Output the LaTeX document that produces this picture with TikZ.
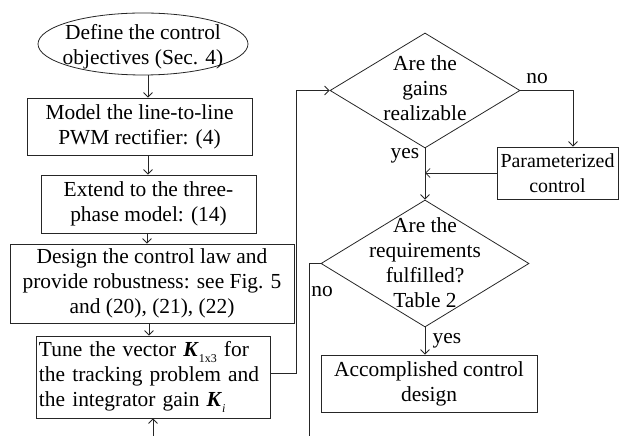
\documentclass[tikz,border=0pt]{standalone}
\usepackage{fontspec}
\setmainfont{Liberation Serif}
\usetikzlibrary{shapes.geometric,arrows.meta,calc}
\newcommand{\Kv}{\textbf{\textit{K}}}
\newcommand{\subsm}[1]{\raisebox{-0.25em}{\fontsize{12}{12}\selectfont #1}}
\begin{document}
\begin{tikzpicture}[x=1bp,y=-1bp, line width=0.8bp, draw=black!85,
  every node/.style={font=\fontsize{21.5}{25}\selectfont, text=black},
  box/.style={draw, rectangle, inner sep=0pt, align=center},
  txt/.style={inner sep=0pt, align=center},
  arr/.style={-{Straight Barb[length=4.5bp,width=9bp]}},
  lbl/.style={inner sep=0pt}]
\useasboundingbox (0,0) rectangle (619,436);
% shapes
\node[draw, ellipse, minimum width=210bp, minimum height=62bp, inner sep=0pt] (ell) at (143,44) {};
\node[txt] (ellt) at (143,46.5) {Define the control\\objectives (Sec. 4)};
\node[box, minimum width=225bp, minimum height=57bp] (b1) at (139.5,126.5) {Model the line-to-line\\PWM rectifier: (4)};
\node[box, minimum width=215bp, minimum height=58bp] (b2) at (148.5,204) {Extend to the three-\\phase model: (14)};
\node[box, minimum width=284bp, minimum height=79bp] (b3) at (152,283.5) {Design the control law and\\provide robustness: see Fig. 5\\and (20), (21), (22)};
\node[box, minimum width=234bp, minimum height=82bp, text width=228bp, align=left] (b4) at (153,377) {Tune the vector \Kv\subsm{1x3} for\\the tracking problem and\\the integrator gain \Kv\subsm{\textit{i}}};
\node[draw, diamond, minimum width=190bp, minimum height=115bp, inner sep=0pt] (d1) at (425,90.5) {};
\node[txt] (d1t) at (425,88) {Are the\\gains\\realizable};
\node[draw, diamond, minimum width=208bp, minimum height=127bp, inner sep=0pt] (d2) at (425,263.5) {};
\node[txt] (d2t) at (425,262.5) {Are the\\requirements\\fulfilled?\\Table 2};
\node[box, minimum width=121bp, minimum height=52bp, font=\fontsize{20}{25}\selectfont] (pc) at (557.5,173) {Parameterized\\control};
\node[box, minimum width=216bp, minimum height=57bp] (acc) at (429,383.5) {Accomplished control\\design};
% helper coordinates
\coordinate (ax) at (148,0);
\coordinate (bx) at (147,0);
\coordinate (cx) at (149,0);
\coordinate (bot) at (153,436);
\coordinate (r1) at (296,0);
\coordinate (r2) at (573,0);
\coordinate (l2) at (309,436);
% connectors
\draw[arr] (ell.south -| ax) -- (b1.north -| ax);
\draw[arr] (b1.south -| ax) -- (b2.north -| ax);
\draw[arr] (b2.south -| bx) -- (b3.north -| bx);
\draw[arr] (b3.south -| cx) -- (b4.north -| cx);
\draw[arr] (bot) -- (bot |- b4.south);
\draw[arr] ([yshift=4bp]b4.east) -| (r1 |- d1.west) -- (d1.west);
\draw[arr] (d1.east) -| (r2 |- pc.north);
\draw[arr] (pc.west) -- (pc.west -| d1.south);
\draw[arr] (d1.south) -- (d2.north);
\draw[arr] (d2.south) -- (acc.north -| d2.south);
\draw (d2.west) -| (l2);
% labels
\node[lbl] (no1) at (537,79) {no};
\node[lbl] (yes1) at (405,156) {yes};
\node[lbl] (no2) at (322,292) {no};
\node[lbl] (yes2) at (447,341) {yes};
\end{tikzpicture}
\end{document}
